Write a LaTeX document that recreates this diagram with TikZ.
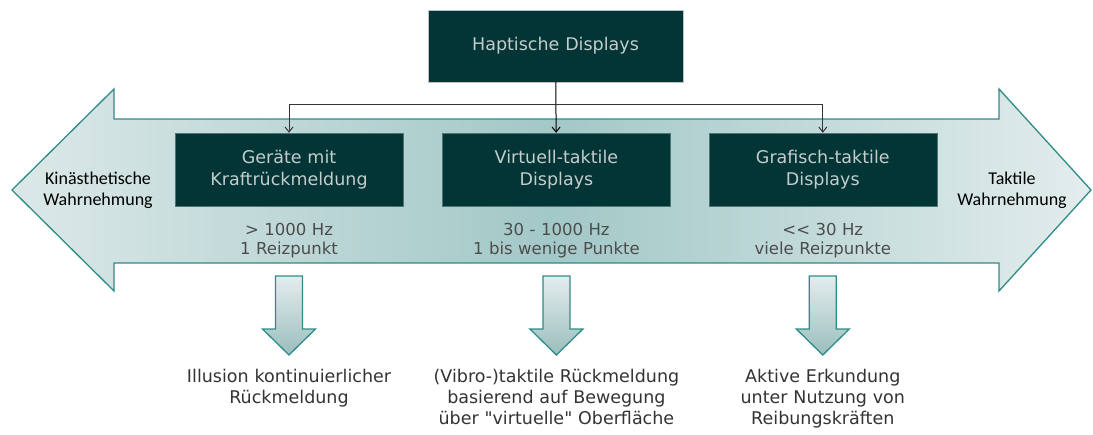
\documentclass[tikz,border=0pt]{standalone}
\usepackage{fontspec}
\setmainfont{DejaVu Sans}[Ligatures=TeXOff]
\newfontfamily\sidefont{Carlito}
\usetikzlibrary{positioning,arrows.meta}

\definecolor{darkteal}{HTML}{033536}
\definecolor{boxtext}{HTML}{C3CDCC}
\definecolor{boxedge}{HTML}{4F7573}
\definecolor{arrowedge}{HTML}{2E8C88}
\definecolor{lightfill}{HTML}{DCE8E8}
\definecolor{darkfill}{HTML}{A2C8C7}

\begin{document}
\begin{tikzpicture}[x=1pt, y=-1pt,
        display/.style={rectangle, draw=boxedge, fill=darkteal, text=boxtext, text centered, minimum width=228pt, minimum height=73pt, text width=220pt, font=\fontsize{17.5}{22}\selectfont},
        topdisplay/.style={display, draw=black!25, minimum width=255pt, minimum height=72pt},
        rate/.style={text=black!70, text centered, text width=220pt, inner sep=0pt, font=\fontsize{16.5}{19.5}\selectfont},
        effect/.style={text=black!80, text centered, text width=300pt, inner sep=0pt, anchor=north, font=\fontsize{17.5}{21}\selectfont},
        side/.style={text centered, text width=130pt, inner sep=0pt, font=\sidefont\fontsize{18}{21.5}\selectfont},
        bigarrow/.style={draw=arrowedge, line width=1.3pt, left color=lightfill, right color=lightfill!80!white, middle color=darkfill},
        downarrow/.style={draw=arrowedge, line width=1.3pt, top color=lightfill!80!white, bottom color=darkfill!95!black},
        link/.style={-{Straight Barb[length=5pt,width=8pt]}, line width=1pt},
    ]
    \useasboundingbox (0,0) rectangle (1093,434);

    % double arrow in the back
    \draw[bigarrow] (12,190) -- (114,89) -- (114,119) -- (999,119) -- (999,89) -- (1091,190)
        -- (999,291) -- (999,263) -- (114,263) -- (114,291) -- cycle;

    \node[topdisplay] (haptic) at (555.5,46) {Haptische Displays};

    \node[display] (force) at (289,169.5) {Geräte mit\\Kraftrückmeldung};
    \node[display] (virtual) [right=39pt of force] {Virtuell-taktile\\Displays};
    \node[display] (graphic) [right=38pt of virtual] {Grafisch-taktile\\Displays};

    \node[side] (kin) at (98,190.5) {Kinästhetische\\Wahrnehmung};
    \node[side] (tact) at (1012,190.5) {Taktile\\Wahrnehmung};

    \node[rate] (force rate) at (force.south |- 0,240.5) {> 1000 Hz\\1 Reizpunkt};
    \node[rate] (virtual rate) at (virtual.south |- 0,240.5) {30 - 1000 Hz\\1 bis wenige Punkte};
    \node[rate] (graphic rate) at (graphic.south |- 0,240.5) {<< 30 Hz\\viele Reizpunkte};

    % small arrows down to the effects
    \draw[downarrow] (force.south |- 0,276) ++(-13.5,0) -- ++(27,0) -- ++(0,53) -- ++(13,0)
        -- ++(-26.5,26) -- ++(-26.5,-26) -- ++(13,0) -- cycle;
    \draw[downarrow] (virtual.south |- 0,276) ++(-13.5,0) -- ++(27,0) -- ++(0,53) -- ++(13,0)
        -- ++(-26.5,26) -- ++(-26.5,-26) -- ++(13,0) -- cycle;
    \draw[downarrow] (graphic.south |- 0,276) ++(-13.5,0) -- ++(27,0) -- ++(0,53) -- ++(13,0)
        -- ++(-26.5,26) -- ++(-26.5,-26) -- ++(13,0) -- cycle;

    \node[effect] (illusion) at (force.south |- 0,369) {Illusion kontinuierlicher\\Rückmeldung};
    \node[effect] (vibro) at (virtual.south |- 0,369) {(Vibro-)taktile Rückmeldung\\basierend auf Bewegung\\über "virtuelle" Oberfläche};
    \node[effect] (explore) at (graphic.south |- 0,369) {Aktive Erkundung\\unter Nutzung von\\Reibungskräften};

    \coordinate (split) at (haptic.south |- 0,104);

    \path[link] (haptic) edge node {} (virtual);
    \draw[link, black!80] (split) -| (force.north);
    \draw[link, black!80] (split) -| (graphic.north);
\end{tikzpicture}
\end{document}
